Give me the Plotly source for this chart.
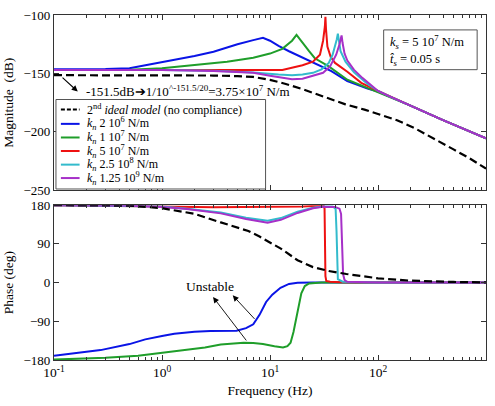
import numpy as np
import plotly.graph_objects as go

# ---------------- data ----------------
# Magnitude (dB)
f_ideal = [0.1, 0.5, 1, 2, 3, 5, 7, 10, 14, 20, 30, 50, 75, 100, 150, 220, 320, 500, 700, 1000]
mag_ideal = [-151.5, -151.5, -151.5, -151.6, -151.8, -152.3, -153, -155.5, -159, -163.5, -169.5,
             -176.5, -181, -184.5, -190, -197, -205, -215, -222.5, -231.5]

f_b = [0.1, 0.3, 0.5, 0.7, 1, 1.5, 2, 3, 5, 7, 8.6, 10, 12, 15, 20, 26, 37, 52, 80, 100, 128, 200, 400, 1000]
mag_b = [-146.5, -146.3, -145.5, -143, -140, -137, -135, -131.5, -125, -121.5, -119.5, -122, -126.5,
         -131, -136.5, -141, -148, -156.5, -163, -165.5, -169.6, -177.5, -190, -205.5]

f_g = [0.1, 0.5, 1, 2, 4, 7, 10, 13, 16, 17.6, 20, 23, 26, 35, 52, 80, 100, 128, 200, 400, 1000]
mag_g = [-147, -146.8, -145.5, -143, -140, -136.5, -133, -129, -122, -117, -124, -131, -137, -144,
         -155.4, -162.5, -165.5, -169.6, -177.5, -190, -205.5]

f_r = [0.1, 1, 5, 10, 13, 20, 25, 29, 31, 32.2, 32.6, 33, 34, 36.5, 40, 52, 70, 100, 128, 200, 400, 1000]
mag_r = [-147, -147, -147.5, -147.3, -147, -143, -140, -134, -122, -110, -101.5, -112, -127, -136,
         -141, -148.5, -158, -165, -169.6, -177.5, -190, -205.5]

f_c = [0.1, 1, 3, 7, 12, 16, 20, 25, 30, 35, 38, 40, 41.5, 42.5, 43.5, 45, 50, 60, 80, 100, 128, 200, 400, 1000]
mag_c = [-147, -147, -147.8, -149.3, -151, -151.5, -151, -149.5, -146.5, -141, -134, -127, -121,
         -116, -122, -131, -140, -149, -159, -165, -169.6, -177.5, -190, -205.5]

f_m = [0.1, 1, 3, 7, 10, 16, 20, 25, 31, 36, 41, 44, 46, 47, 49, 52, 60, 72, 100, 128, 200, 400, 1000]
mag_m = [-147, -147, -148, -149.4, -152, -155, -154.5, -152, -149.4, -144, -134, -125, -117.5, -124,
         -133, -139, -147, -154, -165, -169.6, -177.5, -190, -205.5]

# Phase (deg)
fp_ideal = [0.1, 0.5, 1, 2, 3.5, 5, 6.3, 8, 10, 12.6, 18, 25, 35, 51, 100, 200, 500, 1000]
ph_ideal = [180, 179, 173, 160, 140, 127, 120, 107, 93, 79, 52, 36, 27, 20, 10, 4.5, 1.5, 0.5]

fp_b = [0.1, 0.27, 0.5, 0.7, 1, 1.3, 2, 2.8, 4.9, 6, 7, 8, 9.2, 10.5, 12.5, 15, 18, 25, 1000]
ph_b = [-170, -157, -143, -132, -124, -119, -114.5, -112.5, -112, -106, -97, -75, -45, -28, -12,
        -3, -0.5, 0, 0]

fp_g = [0.1, 0.3, 0.6, 1, 1.5, 2.5, 3.5, 5.7, 7, 8.6, 11, 13.2, 14.5, 15.5, 16.5, 18, 19.5, 21,
        23, 30, 1000]
ph_g = [-179, -175, -170, -163, -158, -151, -144, -140, -140.5, -143, -148, -151, -148, -140, -115,
        -65, -25, -8, -2, 0, 0]

fp_r = [0.1, 0.5, 1, 3, 10, 20, 28, 31.5, 32, 32.3, 32.6, 33.2, 36, 45, 100, 1000]
ph_r = [180, 179, 177, 175.5, 175.5, 177, 179, 178, 172, 100, 15, 4, 2, 1, 0.3, 0]

fp_c = [0.1, 1, 1.7, 3.5, 6, 9.5, 12.6, 18, 25, 31, 38, 40.5, 41.3, 41.8, 42.5, 47, 100, 1000]
ph_c = [180, 177, 172, 163, 151, 144, 150, 165, 174, 177, 177, 172, 120, 30, 8, 2, 0.5, 0]

fp_m = [0.1, 0.5, 1, 1.7, 3.5, 6, 9.5, 12.6, 18, 25, 31, 40, 44, 45.5, 46.5, 47.5, 49, 52, 100, 1000]
ph_m = [180, 179, 176, 171, 161, 148, 139.5, 146, 162, 173, 176.5, 176, 172, 160, 90, 20, 6, 2, 0.5, 0]

names = ["<i>k<sub>n</sub></i> 2 10<sup>6</sup> N/m", "<i>k<sub>n</sub></i> 1 10<sup>7</sup> N/m",
         "<i>k<sub>n</sub></i> 5 10<sup>7</sup> N/m", "<i>k<sub>n</sub></i> 2.5 10<sup>8</sup> N/m",
         "<i>k<sub>n</sub></i> 1.25 10<sup>9</sup> N/m"]
ideal_name = "2<sup>nd</sup> <i>ideal model</i> (no compliance)"
colors = ["#0a14e6", "#1f9e2a", "#ee1111", "#33bbcc", "#a630c8"]

x_tickvals = [0.1, 1, 10, 100, 1000]
x_ticktext = ["10<sup>-1</sup>", "10<sup>0</sup>", "10<sup>1</sup>", "10<sup>2</sup>", "10<sup>3</sup>"]
mag_ticks = [-250, -200, -150, -100]
ph_ticks = [-180, -90, 0, 90, 180]

# ---------------- figure ----------------
FONT = "Times New Roman, Liberation Serif, DejaVu Serif, serif"
W, H = 495, 406
ML, MR, MT, MB = 48, 8, 13, 46
PW, PH = W - ML - MR, H - MT - MB


def px(xp):
    return (xp - ML) / PW


def py(yp):
    return (H - MB - yp) / PH


fig = go.Figure()
mag_sets = [(f_b, mag_b), (f_g, mag_g), (f_r, mag_r), (f_c, mag_c), (f_m, mag_m)]
ph_sets = [(fp_b, ph_b), (fp_g, ph_g), (fp_r, ph_r), (fp_c, ph_c), (fp_m, ph_m)]
for (fx, my), c, n in zip(mag_sets, colors, names):
    fig.add_trace(go.Scatter(x=fx, y=my, mode="lines", line=dict(color=c, width=2),
                             name=n, showlegend=False, xaxis="x", yaxis="y"))
fig.add_trace(go.Scatter(x=f_ideal, y=mag_ideal, mode="lines",
                         line=dict(color="black", width=2.2, dash="8px,4px"),
                         name=ideal_name, showlegend=False, xaxis="x", yaxis="y"))
for (fx, pyv), c, n in zip(ph_sets, colors, names):
    fig.add_trace(go.Scatter(x=fx, y=pyv, mode="lines", line=dict(color=c, width=2),
                             name=n, showlegend=False, xaxis="x2", yaxis="y2"))
fig.add_trace(go.Scatter(x=fp_ideal, y=ph_ideal, mode="lines",
                         line=dict(color="black", width=2.2, dash="8px,4px"),
                         name=ideal_name, showlegend=False, xaxis="x2", yaxis="y2"))

minor_vals = [m * 10.0 ** e for e in range(-1, 3) for m in range(2, 10)]
axcol = "#333333"
common_x = dict(type="log", range=[-1, 3], tickvals=x_tickvals, ticks="inside", ticklen=5,
                tickcolor=axcol, showline=True, linecolor=axcol, linewidth=1.3, mirror="allticks",
                showgrid=False, zeroline=False,
                minor=dict(tickvals=minor_vals, ticks="inside", ticklen=3, tickcolor=axcol))
common_y = dict(ticks="inside", ticklen=5, tickcolor=axcol, showline=True, linecolor=axcol,
                linewidth=1.3, mirror="allticks", showgrid=False, zeroline=False,
                tickfont=dict(family=FONT, size=13, color="black"))

top_dom = [py(189.3), 1.0]
bot_dom = [0.0, py(204.3)]
fig.update_layout(
    width=W, height=H, margin=dict(l=ML, r=MR, t=MT, b=MB),
    paper_bgcolor="white", plot_bgcolor="white",
    font=dict(family=FONT, size=13, color="black"),
    xaxis=dict(common_x, anchor="y", showticklabels=False),
    yaxis=dict(common_y, domain=top_dom, range=[-250, -100], tickvals=mag_ticks,
               title=dict(text="Magnitude  (dB)", font=dict(family=FONT, size=13.5), standoff=6)),
    xaxis2=dict(common_x, anchor="y2", ticktext=x_ticktext,
                tickfont=dict(family=FONT, size=13.5, color="black"),
                title=dict(text="Frequency (Hz)", font=dict(family=FONT, size=13.5), standoff=6)),
    yaxis2=dict(common_y, domain=bot_dom, range=[-180, 180], tickvals=ph_ticks,
                title=dict(text="Phase (deg)", font=dict(family=FONT, size=13.5), standoff=6)),
    showlegend=False,
)

shapes = []
annotations = []
# legend box (drawn manually to match the compact reference legend)
shapes.append(dict(type="rect", xref="paper", yref="paper", x0=px(50), x1=px(263), y0=py(188),
                   y1=py(98), line=dict(color="#555555", width=1), fillcolor="white", layer="above"))
rows = [108, 122.5, 136.2, 149.8, 163.5, 177]
leg_items = [(ideal_name, "black", "4px,2px")] + [(n, c, "solid") for n, c in zip(names, colors)]
for yy, (txt, c, d) in zip(rows, leg_items):
    shapes.append(dict(type="line", xref="paper", yref="paper", x0=px(55), x1=px(74), y0=py(yy),
                       y1=py(yy), line=dict(color=c, width=2, dash=d), layer="above"))
    annotations.append(dict(xref="paper", yref="paper", x=px(79), y=py(yy), text=txt,
                            showarrow=False, xanchor="left", yanchor="middle",
                            font=dict(size=12, family=FONT)))

# parameter box
shapes.append(dict(type="rect", xref="paper", yref="paper", x0=px(383), x1=px(478), y0=py(68),
                   y1=py(28), line=dict(color="#555555", width=1), fillcolor="white", layer="above"))
annotations.append(dict(xref="paper", yref="paper", x=px(387), y=py(40),
                        text="<i>k<sub>s</sub></i> = 5 10<sup>7</sup> N/m", showarrow=False,
                        xanchor="left", yanchor="middle", font=dict(size=12.5, family=FONT)))
annotations.append(dict(xref="paper", yref="paper", x=px(387), y=py(58),
                        text="<i>t\u0302<sub>s</sub></i> = 0.05 s", showarrow=False,
                        xanchor="left", yanchor="middle", font=dict(size=12.5, family=FONT)))

# -151.5 dB note
annotations.append(dict(xref="x", yref="y", axref="x", ayref="y", x=-0.78, y=-165.5,
                        ax=-0.935, ay=-152.5, text="", showarrow=True, arrowhead=2,
                        arrowsize=1.1, arrowwidth=1.1, arrowcolor="black"))
annotations.append(dict(xref="x", yref="y", x=-0.72, y=-165.4,
                        text="-151.5dB\u27941/10<sup>^-151.5/20</sup>=3.75\u00d710<sup>7</sup> N/m",
                        showarrow=False, xanchor="left", yanchor="middle",
                        font=dict(size=13, family=FONT)))

# Unstable note
annotations.append(dict(xref="x2", yref="y2", x=0.445, y=-9, text="Unstable", showarrow=False,
                        xanchor="center", yanchor="middle", font=dict(size=13.5, family=FONT)))
annotations.append(dict(xref="x2", yref="y2", axref="x2", ayref="y2", x=0.473, y=-33.6,
                        ax=0.791, ay=-138, text="", showarrow=True, arrowhead=2,
                        arrowsize=1.3, arrowwidth=0.9, arrowcolor="black"))
annotations.append(dict(xref="x2", yref="y2", axref="x2", ayref="y2", x=0.655, y=-29.7,
                        ax=0.87, ay=-88, text="", showarrow=True, arrowhead=2,
                        arrowsize=1.3, arrowwidth=0.9, arrowcolor="black"))

fig.update_layout(shapes=shapes, annotations=annotations)
fig.write_html("out.html")
